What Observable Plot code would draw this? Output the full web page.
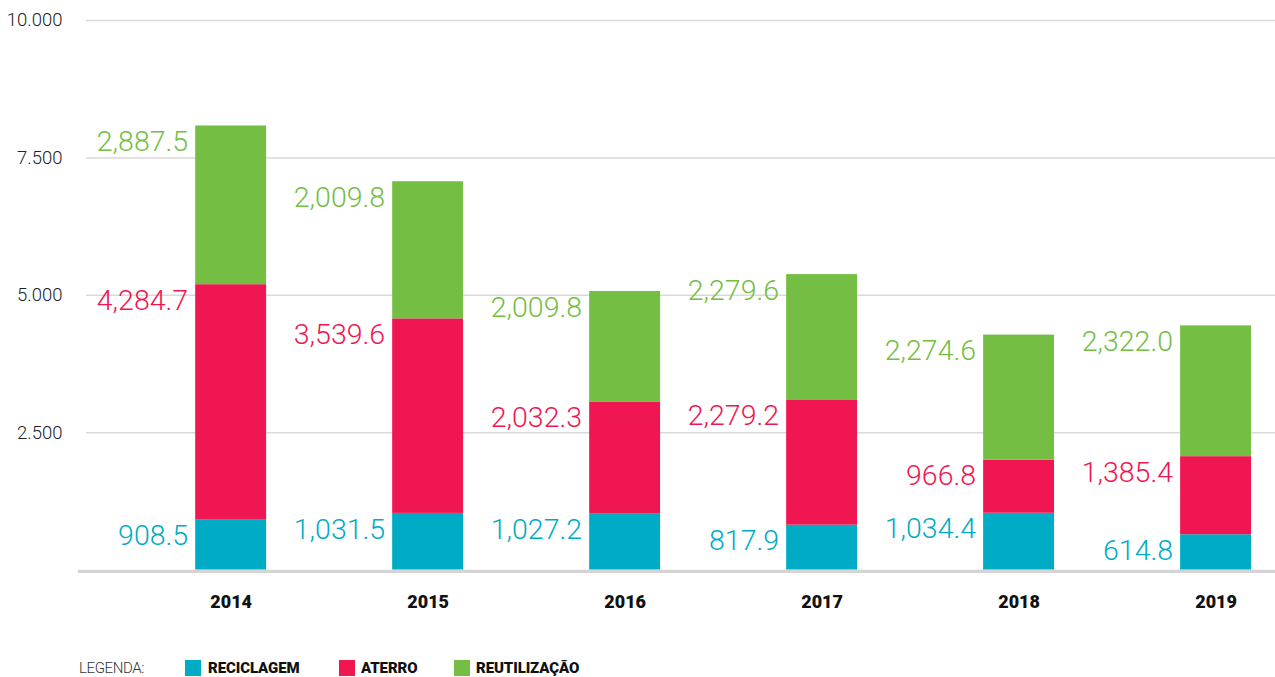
<!DOCTYPE html>
<html>
<head>
<meta charset="utf-8">
<script src="https://cdn.jsdelivr.net/npm/d3@7"></script>
<script src="https://cdn.jsdelivr.net/npm/@observablehq/plot@0.6"></script>
<style>
  html, body { margin: 0; padding: 0; background: #fff; overflow: hidden; }
  #chart { width: 1275px; height: 640px; }
  .legend { position: relative; height: 37px; font-family: Roboto, "Liberation Sans", sans-serif; }
  .legend span { position: absolute; top: 20px; line-height: 17px; height: 17px; white-space: nowrap; }
  .legend .sw { width: 16px; height: 16px; }
  .legend .lab { font-weight: 900; font-size: 15px; color: #111; letter-spacing: -0.1px; }
  .legend .title { font-weight: 300; font-size: 15px; color: #333; letter-spacing: -0.4px; }
</style>
</head>
<body>
<div id="chart"></div>
<div class="legend" id="legend"></div>
<script>
const years = ["2014", "2015", "2016", "2017", "2018", "2019"];
const categories = ["RECICLAGEM", "ATERRO", "REUTILIZAÇÃO"];
const colors = ["#00abc6", "#ef1651", "#74be43"];
// bar heights as drawn in the picture
const reciclagem = [908.5, 1031.5, 1027.2, 817.9, 1034.4, 643];
const aterro = [4284.7, 3539.6, 2032.3, 2279.2, 966.8, 1421];
const reutilizacao = [2887.5, 2495, 2009.8, 2279.6, 2274.6, 2380];
// printed value labels
const reciclagemLabels = ["908.5", "1,031.5", "1,027.2", "817.9", "1,034.4", "614.8"];
const aterroLabels = ["4,284.7", "3,539.6", "2,032.3", "2,279.2", "966.8", "1,385.4"];
const reutilizacaoLabels = ["2,887.5", "2,009.8", "2,009.8", "2,279.6", "2,274.6", "2,322.0"];
const yTicks = [2500, 5000, 7500, 10000];
const yTickLabels = ["2.500", "5.000", "7.500", "10.000"];

const seriesValues = [reciclagem, aterro, reutilizacao];
const seriesLabels = [reciclagemLabels, aterroLabels, reutilizacaoLabels];
const data = [];
categories.forEach((c, i) => {
  years.forEach((y, j) => data.push({year: y, type: c, value: seriesValues[i][j], label: seriesLabels[i][j]}));
});

const numFont = "Roboto, 'Liberation Sans', sans-serif";

const plot = Plot.plot({
  width: 1275,
  height: 640,
  marginTop: 20,
  marginBottom: 70.4,
  marginLeft: 86,
  marginRight: 0,
  style: {fontFamily: numFont, background: "#fff"},
  x: {domain: years, paddingInner: 0.64, paddingOuter: 0.338, align: 0.82, round: false, label: null},
  y: {domain: [0, 10000], label: null},
  color: {domain: categories, range: colors},
  marks: [
    Plot.ruleY(yTicks, {stroke: "#d9d9d9", strokeWidth: 1.5}),
    Plot.barY(data, {x: "year", y: "value", fill: "type", order: categories}),
    Plot.ruleY([0], {stroke: "#d4d4d4", strokeWidth: 3.3, insetLeft: -8, dy: 1.2}),
    Plot.text(data, Plot.stackY2({
      x: "year", y: "value", z: "type", order: categories,
      text: "label",
      fill: "type",
      textAnchor: "end",
      dx: -43, dy: 16,
      fontSize: 28.5,
      fontWeight: 300,
      lineAnchor: "middle",
      style: {letterSpacing: "-1.5px"}
    })),
    Plot.axisY(yTicks, {
      tickSize: 0, tickPadding: 24,
      tickFormat: d => yTickLabels[yTicks.indexOf(d)],
      fontSize: 18.5, fill: "#222", fontWeight: 300,
      label: null
    }),
    Plot.axisX({
      tickSize: 0, tickPadding: 25,
      fontSize: 18, fontWeight: 900, fill: "#111",
      label: null
    })
  ]
});
document.getElementById("chart").appendChild(plot);

const legend = document.getElementById("legend");
const items = [
  {cls: "title", text: "LEGENDA:", left: 79},
  {sw: 0, left: 185}, {cls: "lab", text: categories[0], left: 208},
  {sw: 1, left: 339}, {cls: "lab", text: categories[1], left: 361},
  {sw: 2, left: 454}, {cls: "lab", text: categories[2], left: 476}
];
items.forEach(it => {
  const s = document.createElement("span");
  s.style.left = it.left + "px";
  if (it.sw !== undefined) { s.className = "sw"; s.style.background = colors[it.sw]; }
  else { s.className = it.cls; s.textContent = it.text; }
  legend.appendChild(s);
});
</script>
</body>
</html>
